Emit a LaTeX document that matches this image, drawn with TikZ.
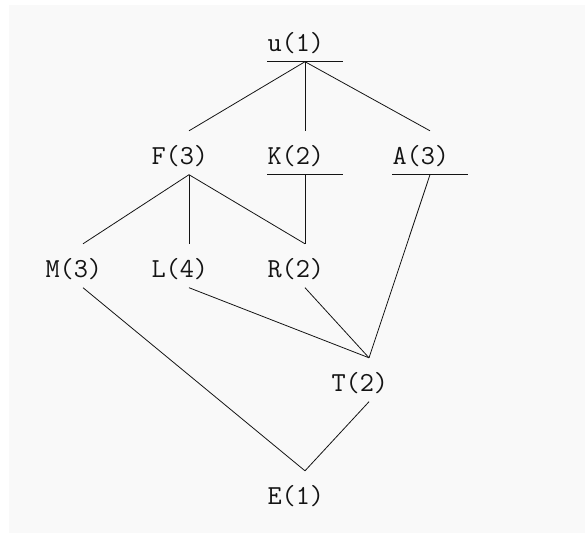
\documentclass[tikz,border=0pt]{standalone}
\usepackage{fontspec}
\usepackage{xcolor}
\usetikzlibrary{positioning}
\definecolor{paper}{RGB}{249,249,249}
\definecolor{ink}{RGB}{20,20,20}

\begin{document}
\begin{tikzpicture}[x=1pt,y=-1pt,
	lbl/.style={anchor=base,inner sep=0pt,text width=75pt,align=left,
		text height=33pt,text depth=10.5pt,text=ink,
		font=\ttfamily\fontsize{27.5}{30}\selectfont\addfontfeatures{FakeStretch=1.12}},
	edge/.style={draw=ink,line width=0.8pt}]
	\useasboundingbox (0,0) rectangle (585,533);
	\fill[paper] (9,5) rectangle (585,533);
	
	\node[lbl] (u) at (305,51) {u(1)};
	
	\node[lbl] (F) at (189,164) {F(3)};
	\node[lbl] (K) at (305,164) {K(2)};
	\node[lbl] (A) at (430,164) {A(3)};
	
	\node[lbl] (M) at (83,277) {M(3)};
	\node[lbl] (L) at (189,277) {L(4)};
	\node[lbl] (R) at (305,277) {R(2)};
	
	\node[lbl] (T) at (369,391) {T(2)};
	\node[lbl] (E) at (305,504) {E(1)};
	
	% underlined labels
	\draw[edge] (u.south west) -- (u.south east);
	\draw[edge] (K.south west) -- (K.south east);
	\draw[edge] (A.south west) -- (A.south east);
	
	\draw[edge] (u.south) -- (F.north);
	\draw[edge] (u.south) -- (K.north);
	\draw[edge] (u.south) -- (A.north);
	
	\draw[edge] (F.south) -- (M.north);
	\draw[edge] (F.south) -- (L.north);
	\draw[edge] (F.south) -- (R.north);
	\draw[edge] (K.south) -- (R.north);
	
	\draw[edge] (A.south) -- (T.north);
	\draw[edge] (L.south) -- (T.north);
	\draw[edge] (R.south) -- (T.north);
	
	\draw[edge] (M.south) -- (E.north);
	\draw[edge] (T.south) -- (E.north);
\end{tikzpicture}
\end{document}
